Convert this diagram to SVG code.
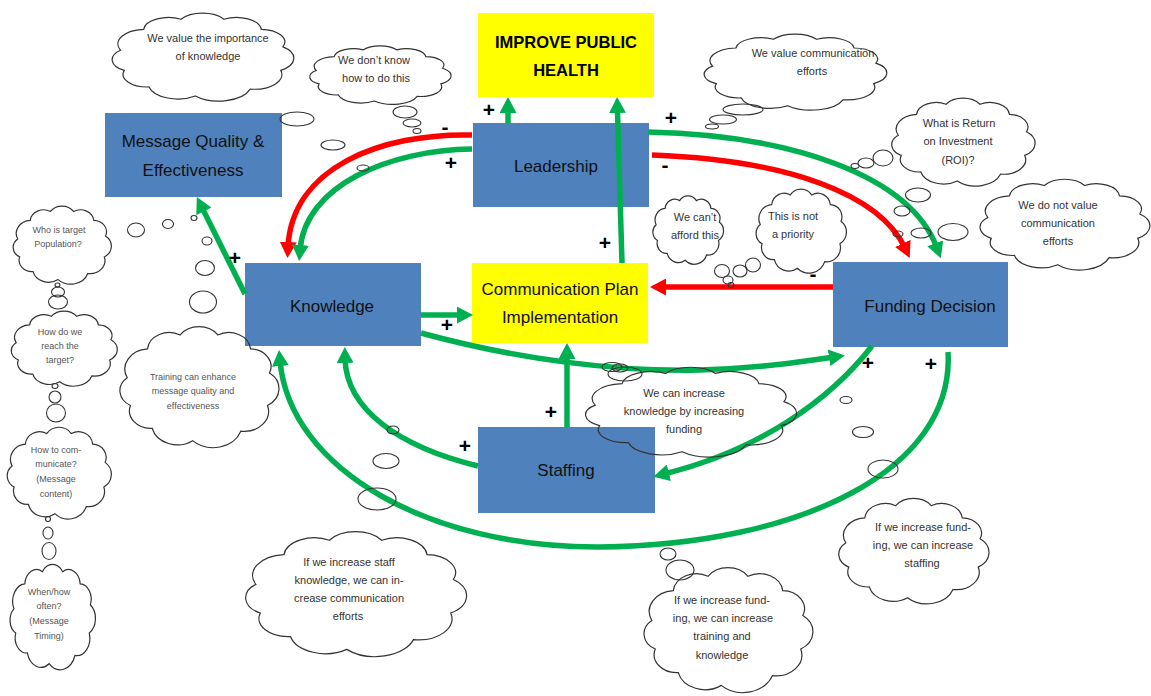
<svg xmlns="http://www.w3.org/2000/svg" xmlns:xlink="http://www.w3.org/1999/xlink" width="1151" height="696" viewBox="0 0 1151 696">
<style>
.box{fill:#4F81BD;}
.ybox{fill:#FFFF00;}
.nt{font-family:"Liberation Sans",Arial,sans-serif;font-size:17px;fill:#111;text-anchor:middle;}
.bt{font-family:"Liberation Sans",Arial,sans-serif;font-size:16.5px;font-weight:bold;fill:#000;text-anchor:middle;}
.ct{font-family:"Liberation Sans",Arial,sans-serif;font-size:11px;fill:#333;text-anchor:middle;}
.cs{font-family:"Liberation Sans",Arial,sans-serif;font-size:9px;fill:#555;text-anchor:middle;}
.g{fill:none;stroke:#00B050;stroke-width:5.5;marker-end:url(#ag);}
.r{fill:none;stroke:#FF0000;stroke-width:5.5;marker-end:url(#ar);}
.lb{font-family:"Liberation Sans",Arial,sans-serif;font-size:21px;font-weight:bold;fill:#000;text-anchor:middle;}
.bub{fill:none;stroke:#333;stroke-width:1.1;}
</style>
<defs>
<marker id="ag" markerUnits="userSpaceOnUse" markerWidth="16" markerHeight="17" refX="5" refY="8.5" orient="auto"><path d="M0,0 L16,8.5 L0,17 Z" fill="#00B050"/></marker>
<marker id="ar" markerUnits="userSpaceOnUse" markerWidth="16" markerHeight="17" refX="5" refY="8.5" orient="auto"><path d="M0,0 L16,8.5 L0,17 Z" fill="#FF0000"/></marker>
<symbol id="cloud" viewBox="0 4 100 92" preserveAspectRatio="none" style="overflow:visible">
<path d="M5.7,43.1 A15,15 0 0 1 18.2,21.7 A13.5,13.5 0 0 1 38.4,11.4 A14,14 0 0 1 61.6,11.4 A13.5,13.5 0 0 1 81.8,21.7 A13,13 0 0 1 93.5,39.6 A14.5,14.5 0 0 1 92.3,63.7 A15,15 0 0 1 75.8,82.8 A18,18 0 0 1 46.1,89.8 A16,16 0 0 1 21.1,80.6 A13,13 0 0 1 7.7,63.7 A12.5,12.5 0 0 1 5.7,43.1 Z" fill="none" stroke="#333" stroke-width="1.2" vector-effect="non-scaling-stroke"/>
</symbol>
</defs>
<rect width="1151" height="696" fill="#fff"/>

<g id="node-improve"><rect class="ybox" x="478" y="13" width="176" height="84"/><text class="bt" x="566" y="48">IMPROVE PUBLIC</text><text class="bt" x="566" y="76">HEALTH</text></g>
<g id="node-message"><rect class="box" x="105" y="113" width="177" height="84"/><text class="nt" x="193" y="147">Message Quality &amp;</text><text class="nt" x="193" y="176">Effectiveness</text></g>
<g id="node-leadership"><rect class="box" x="473" y="123" width="176" height="84"/><text class="nt" x="556" y="172">Leadership</text></g>
<g id="node-knowledge"><rect class="box" x="245" y="263" width="176" height="83"/><text class="nt" x="332" y="312">Knowledge</text></g>
<g id="node-commplan"><rect class="ybox" x="472" y="263" width="176" height="80"/><text class="nt" x="560" y="295">Communication Plan</text><text class="nt" x="560" y="323">Implementation</text></g>
<g id="node-funding"><rect class="box" x="833" y="262" width="175" height="85"/><text class="nt" x="930" y="312">Funding Decision</text></g>
<g id="node-staffing"><rect class="box" x="478" y="427" width="177" height="86"/><text class="nt" x="566" y="476">Staffing</text></g>

<g id="connectors">
<path class="g" d="M508,123 V108"/>
<path class="g" d="M622,263 L617.4,108"/>
<path class="r" d="M472,135 C380,133 292,168 288,247"/>
<path class="g" d="M472,149 C390,150 305,185 300,250"/>
<path class="g" d="M648,132 C790,135 910,175 937,248"/>
<path class="r" d="M652,155 C790,160 880,195 905,248"/>
<path class="r" d="M833,287 H661"/>
<path class="g" d="M421,315 H462"/>
<path class="g" d="M421,333 C520,360 620,372 700,370 C760,368 800,362 834,357"/>
<path class="g" d="M245,294 L201.7,206.9"/>
<path class="g" d="M567,427 V354"/>
<path class="g" d="M478,466 C400,447 346,410 345,358"/>
<path class="g" d="M872,346 C830,400 760,450 664,474"/>
<path class="g" d="M948,352 C955,470 800,545 600,547 C430,548 290,470 280,361"/>
<text class="lb" x="489" y="117">+</text>
<text class="lb" x="445" y="134">-</text>
<text class="lb" x="451" y="170">+</text>
<text class="lb" x="671" y="125">+</text>
<text class="lb" x="665" y="172">-</text>
<text class="lb" x="605" y="250">+</text>
<text class="lb" x="813" y="281">-</text>
<text class="lb" x="235" y="265">+</text>
<text class="lb" x="447" y="332">+</text>
<text class="lb" x="551" y="419">+</text>
<text class="lb" x="465" y="453">+</text>
<text class="lb" x="868" y="370">+</text>
<text class="lb" x="931" y="371">+</text>
</g>

<g id="cloud-importance"><use xlink:href="#cloud" href="#cloud" x="110" y="12" width="185" height="90"/><text class="ct" x="208" y="42">We value the importance</text><text class="ct" x="208" y="60">of knowledge</text>
<ellipse class="bub" cx="297" cy="119" rx="17" ry="7"/><ellipse class="bub" cx="333" cy="145" rx="12" ry="5"/><ellipse class="bub" cx="363" cy="168" rx="6" ry="3"/></g>
<g id="cloud-dontknow"><use xlink:href="#cloud" href="#cloud" x="308" y="45" width="144" height="60"/><text class="ct" x="374" y="64">We don’t know</text><text class="ct" x="376" y="82">how to do this</text>
<ellipse class="bub" cx="405" cy="112" rx="12" ry="6"/><ellipse class="bub" cx="412" cy="123" rx="9" ry="4"/><ellipse class="bub" cx="417" cy="131" rx="4" ry="2.5"/></g>
<g id="cloud-valuecomm"><use xlink:href="#cloud" href="#cloud" x="702" y="33" width="186" height="78"/><text class="ct" x="813" y="57">We value communication</text><text class="ct" x="812" y="75">efforts</text>
<ellipse class="bub" cx="743" cy="109.5" rx="20" ry="5.5"/><ellipse class="bub" cx="723" cy="119.5" rx="13.5" ry="4.5"/><ellipse class="bub" cx="712" cy="126.5" rx="6.5" ry="2.5"/></g>
<g id="cloud-roi"><use xlink:href="#cloud" href="#cloud" x="890" y="97" width="146" height="90"/><text class="ct" x="959" y="127">What is Return</text><text class="ct" x="958" y="145">on Investment</text><text class="ct" x="958" y="164">(ROI)?</text>
<ellipse class="bub" cx="883" cy="158" rx="10" ry="8"/><ellipse class="bub" cx="866" cy="163" rx="8" ry="5"/><ellipse class="bub" cx="855" cy="166" rx="4" ry="2.5"/></g>
<g id="cloud-donotvalue"><use xlink:href="#cloud" href="#cloud" x="978" y="178" width="173" height="93"/><text class="ct" x="1058" y="209">We do not value</text><text class="ct" x="1058" y="227">communication</text><text class="ct" x="1058" y="245">efforts</text>
<ellipse class="bub" cx="918" cy="195" rx="12.5" ry="7"/><ellipse class="bub" cx="902" cy="211" rx="8" ry="5"/><ellipse class="bub" cx="953" cy="232" rx="15" ry="8.5"/><ellipse class="bub" cx="921" cy="233" rx="10" ry="5"/><ellipse class="bub" cx="898" cy="234" rx="5" ry="3"/></g>
<g id="cloud-afford"><use xlink:href="#cloud" href="#cloud" x="652" y="195" width="72" height="70"/><text class="ct" x="695" y="221">We can’t</text><text class="ct" x="695" y="239">afford this</text></g>
<g id="cloud-priority"><use xlink:href="#cloud" href="#cloud" x="755" y="188" width="92" height="86"/><text class="ct" x="793" y="220">This is not</text><text class="ct" x="793" y="238">a priority</text>
<ellipse class="bub" cx="722" cy="271" rx="7.5" ry="6.5"/><ellipse class="bub" cx="740" cy="271" rx="7" ry="6"/><ellipse class="bub" cx="753" cy="265" rx="7.5" ry="7"/><ellipse class="bub" cx="728" cy="280" rx="5" ry="4"/><ellipse class="bub" cx="731" cy="285" rx="3" ry="2.5"/></g>
<g id="cloud-who"><use xlink:href="#cloud" href="#cloud" x="12" y="205" width="100" height="80"/><text class="cs" x="59" y="233">Who is target</text><text class="cs" x="58" y="247">Population?</text>
<ellipse class="bub" cx="57.5" cy="285" rx="2.5" ry="2"/><ellipse class="bub" cx="58" cy="292" rx="6.5" ry="5"/><ellipse class="bub" cx="58" cy="302" rx="9.5" ry="7"/></g>
<g id="cloud-reach"><use xlink:href="#cloud" href="#cloud" x="10" y="310" width="108" height="77"/><text class="cs" x="60" y="335">How do we</text><text class="cs" x="60" y="349">reach the</text><text class="cs" x="60" y="363">target?</text>
<ellipse class="bub" cx="55" cy="386" rx="3" ry="2.5"/><ellipse class="bub" cx="55" cy="397" rx="6" ry="6"/><ellipse class="bub" cx="56" cy="413" rx="9.5" ry="9"/></g>
<g id="cloud-howto"><use xlink:href="#cloud" href="#cloud" x="6" y="426" width="106" height="94"/><text class="cs" x="56" y="453">How to com-</text><text class="cs" x="56" y="467">municate?</text><text class="cs" x="56" y="482">(Message</text><text class="cs" x="56" y="497">content)</text>
<ellipse class="bub" cx="48" cy="519" rx="2.5" ry="2.5"/><ellipse class="bub" cx="48" cy="533" rx="5" ry="6"/><ellipse class="bub" cx="49" cy="551" rx="7" ry="8.5"/></g>
<g id="cloud-when"><use xlink:href="#cloud" href="#cloud" x="9" y="563" width="87" height="108"/><text class="cs" x="49" y="595">When/how</text><text class="cs" x="49" y="609">often?</text><text class="cs" x="49" y="624">(Message</text><text class="cs" x="49" y="639">Timing)</text></g>
<g id="cloud-training"><use xlink:href="#cloud" href="#cloud" x="118" y="325" width="162" height="124"/><text class="cs" x="193" y="380">Training can enhance</text><text class="cs" x="193" y="394">message quality and</text><text class="cs" x="193" y="409">effectiveness</text>
<ellipse class="bub" cx="136" cy="230" rx="8.5" ry="7"/><ellipse class="bub" cx="168" cy="224" rx="5.5" ry="4.5"/><ellipse class="bub" cx="194" cy="218" rx="3" ry="2.5"/><ellipse class="bub" cx="207" cy="241" rx="5" ry="4"/><ellipse class="bub" cx="205" cy="268" rx="9.5" ry="7.5"/><ellipse class="bub" cx="203" cy="302" rx="13.5" ry="11"/></g>
<g id="cloud-staffknow"><use xlink:href="#cloud" href="#cloud" x="243" y="530" width="225" height="128"/><text class="ct" x="349" y="566">If we increase staff</text><text class="ct" x="349" y="584">knowledge, we can in-</text><text class="ct" x="349" y="602">crease communication</text><text class="ct" x="348" y="620">efforts</text>
<ellipse class="bub" cx="393" cy="430" rx="6" ry="4"/><ellipse class="bub" cx="386" cy="461" rx="13" ry="7.5"/><ellipse class="bub" cx="377" cy="499" rx="19" ry="11"/></g>
<g id="cloud-knowfund"><use xlink:href="#cloud" href="#cloud" x="583" y="366" width="215" height="92"/><text class="ct" x="684" y="397">We can increase</text><text class="ct" x="684" y="415">knowledge by increasing</text><text class="ct" x="684" y="433">funding</text>
<ellipse class="bub" cx="612" cy="367" rx="10" ry="4.5"/><ellipse class="bub" cx="620" cy="368" rx="8" ry="4"/><ellipse class="bub" cx="625" cy="374" rx="17" ry="7"/></g>
<g id="cloud-fundtrain"><use xlink:href="#cloud" href="#cloud" x="642" y="566" width="172" height="128"/><text class="ct" x="722" y="604">If we increase fund-</text><text class="ct" x="723" y="622">ing, we can increase</text><text class="ct" x="722" y="640">training and</text><text class="ct" x="722" y="659">knowledge</text>
<ellipse class="bub" cx="668" cy="554" rx="8" ry="6"/><ellipse class="bub" cx="680" cy="570" rx="14" ry="10"/></g>
<g id="cloud-fundstaff"><use xlink:href="#cloud" href="#cloud" x="837" y="497" width="153" height="108"/><text class="ct" x="923" y="531">If we increase fund-</text><text class="ct" x="923" y="549">ing, we can increase</text><text class="ct" x="922" y="567">staffing</text>
<ellipse class="bub" cx="846" cy="400" rx="6" ry="3.5"/><ellipse class="bub" cx="863" cy="432" rx="10.5" ry="5.5"/><ellipse class="bub" cx="883" cy="469" rx="15" ry="9"/></g>
</svg>
